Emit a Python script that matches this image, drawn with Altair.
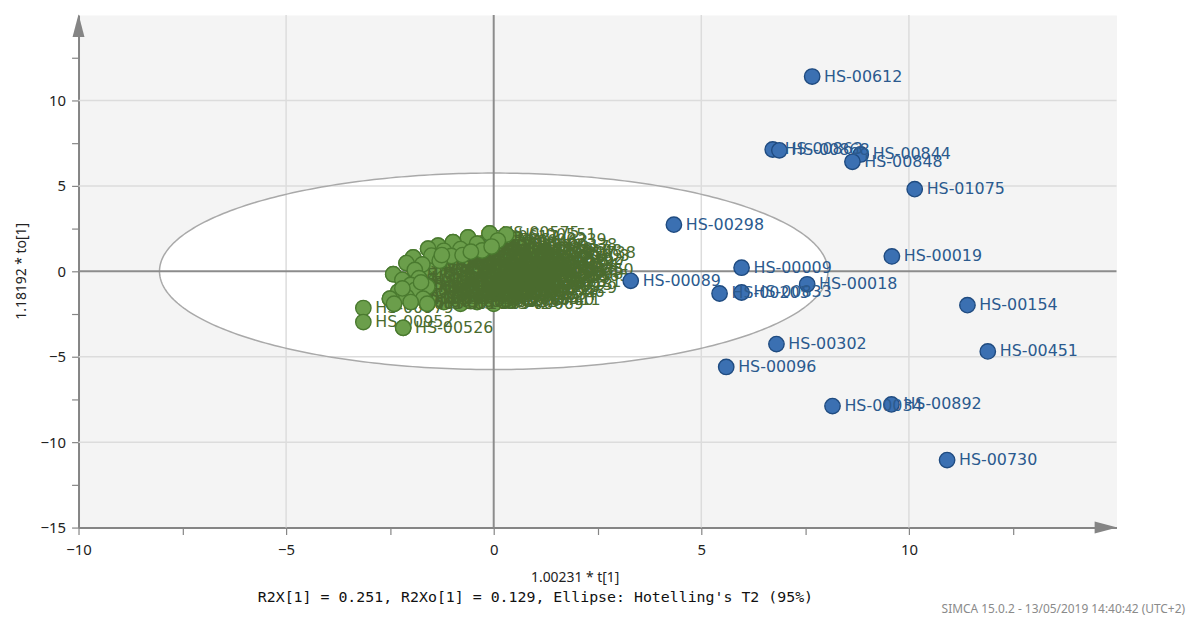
import altair as alt
import pandas as pd
import numpy as np

# ---------------- data ----------------
blue_id = ["HS-00612", "HS-00863", "HS-00868", "HS-00844", "HS-00848", "HS-01075",
           "HS-00298", "HS-00019", "HS-00009", "HS-00089", "HS-00018", "HS-00205",
           "HS-00833", "HS-00154", "HS-00302", "HS-00451", "HS-00096", "HS-00034",
           "HS-00892", "HS-00730"]
blue_x = [7.67, 6.72, 6.88, 8.84, 8.64, 10.14, 4.34, 9.59, 5.97, 3.30, 7.55, 5.44,
          5.97, 11.41, 6.81, 11.90, 5.60, 8.16, 9.58, 10.92]
blue_y = [11.40, 7.13, 7.08, 6.84, 6.41, 4.81, 2.73, 0.87, 0.21, -0.56, -0.76, -1.30,
          -1.24, -1.98, -4.26, -4.69, -5.60, -7.89, -7.79, -11.05]

green_id = ["HS-00979", "HS-00952", "HS-00526", "HS-00981",
            "HS-00575", "HS-00551", "HS-00239", "HS-00617", "HS-00702", "HS-00133",
            "HS-00462", "HS-00338", "HS-00284", "HS-00917",
            "HS-00045", "HS-00871", "HS-00366", "HS-00510", "HS-00729", "HS-00188",
            "HS-00403", "HS-00654", "HS-00207", "HS-00391", "HS-00823", "HS-00114",
            "HS-00595", "HS-00276", "HS-00738",
            "HS-00312", "HS-00067", "HS-00759", "HS-00441", "HS-00926", "HS-00158",
            "HS-00683", "HS-00219", "HS-00847", "HS-00350", "HS-00591", "HS-00026",
            "HS-00474", "HS-00805", "HS-00137", "HS-00662", "HS-00295", "HS-00418",
            "HS-00776", "HS-00053", "HS-00609", "HS-00247", "HS-00938", "HS-00381",
            "HS-00125", "HS-00714", "HS-00321", "HS-00565", "HS-00092", "HS-00433",
            "HS-00857", "HS-00176", "HS-00640", "HS-00258", "HS-00789", "HS-00013",
            "HS-00507", "HS-00964", "HS-00231", "HS-00688", "HS-00149", "HS-00372",
            "HS-00815", "HS-00046", "HS-00529", "HS-00903", "HS-00265", "HS-00741",
            "HS-00082", "HS-00456", "HS-00897", "HS-00193", "HS-00634",
            "HS-00318", "HS-00770", "HS-00105", "HS-00583", "HS-00942", "HS-00227",
            "HS-00669", "HS-00411",
            "HS-00536", "HS-00078", "HS-00853", "HS-00244", "HS-00697", "HS-00161",
            "HS-00502", "HS-00928", "HS-00386", "HS-00619", "HS-00071", "HS-00492",
            "HS-00837", "HS-00210", "HS-00755", "HS-00029",
            "HS-00301", "HS-00719", "HS-00548", "HS-00963", "HS-00117", "HS-00385",
            "HS-00606", "HS-00872", "HS-00233", "HS-00490", "HS-00145", "HS-00777",
            "HS-00325", "HS-00058", "HS-00694", "HS-00440", "HS-00811", "HS-00266",
            "HS-00579", "HS-00036", "HS-00927", "HS-00172", "HS-00613", "HS-00359",
            "HS-00804", "HS-00283", "HS-00751", "HS-00094", "HS-00468", "HS-00635"]
green_x = [-3.14, -3.14, -2.18, -2.42,
           -0.10, 0.30, 0.55, -0.62, -0.98, -1.34, 0.10, 0.80, -0.40, 0.62,
           -1.58, -1.20, -0.80, -0.28, 0.22, 0.92, 1.10, -1.94, -1.50, -1.02, -0.52,
           0.02, 0.42, 0.72, 1.25,
           -2.10, -1.72, -1.30, -0.90, -0.60, -0.20, 0.30, 0.60, 1.00, 1.20, -1.90,
           -1.50, -1.10, -0.70, -0.40, 0.10, 0.50, 0.82,
           -2.20, -1.80, -1.40, -1.00, -0.50, -0.10, 0.20, 0.60, 0.90, 1.10, -2.00,
           -1.60, -1.20, -0.80, -0.30, 0.00, 0.40, 0.70,
           -2.30, -1.90, -1.50, -1.10, -0.70, -0.30, 0.10, 0.50, 0.80, -2.50, -2.10,
           -1.70, -1.30, -0.90, -0.50, -0.10, 0.30,
           -2.40, -2.00, -1.60, -1.20, -0.80, -0.40, 0.00, 0.40,
           -1.00, -0.20, 0.30, -0.60, -1.30, -0.85, 0.15, 0.65, -0.45, -1.75, -2.20,
           0.95, -0.05, -0.75, -1.40, 0.40,
           -1.20, -0.90, -0.60, -0.20, 0.20, 0.55, 0.35, -0.35, -0.80, -1.15, -0.75,
           -0.35, 0.05, 0.55, 0.85, 0.25, -0.15, -0.55, -1.00, -1.30, 0.00, -0.50,
           0.45, -0.95, -1.25, 0.15, -0.55, 0.70, 0.95, -0.05]
green_y = [-2.15, -2.97, -3.31, -0.17,
           2.22, 2.15, 1.85, 1.98, 1.70, 1.50, 1.80, 1.55, 1.62, 1.40,
           1.32, 1.20, 1.30, 1.22, 1.30, 1.18, 0.88, 0.81, 0.92, 0.90, 0.80, 0.92,
           1.02, 0.78, 1.05,
           0.48, 0.40, 0.62, 0.50, 0.30, 0.58, 0.50, 0.28, 0.40, 0.10, 0.08, 0.00,
           0.20, -0.10, 0.10, 0.20, -0.10, 0.10,
           -0.50, -0.40, -0.60, -0.30, -0.50, -0.30, -0.60, -0.40, -0.60, -0.30,
           -0.80, -0.90, -0.80, -0.70, -0.80, -0.70, -0.90, -0.80,
           -1.20, -1.10, -1.30, -1.20, -1.10, -1.30, -1.10, -1.20, -1.00, -1.60,
           -1.50, -1.60, -1.50, -1.60, -1.50, -1.60, -1.40,
           -1.90, -1.80, -1.90, -1.80, -1.90, -1.80, -1.90, -1.70,
           -0.05, -0.10, 0.02, -0.30, -0.20, 0.15, -0.40, -0.15, -1.00, -0.65,
           -1.00, 0.65, 1.45, 0.95, 0.30, 0.75,
           -0.40, -0.90, -1.30, -1.00, -0.90, -0.65, -0.30, -0.55, -0.45, -1.00, 0.65,
           0.40, 0.45, 0.60, 0.35, -1.70, -1.35, -1.75, -1.40, -1.10, 0.00, 0.05,
           0.20, 0.35, 0.95, 1.05, 1.15, 1.10, -0.15, -0.50]

# ellipse (Hotelling's T2 95%) semi-axes
ell_a = 8.05
ell_b = 5.75

x_ticks = [-10, -7.5, -5, -2.5, 0, 2.5, 5, 7.5, 10, 12.5]
y_ticks = [-15, -12.5, -10, -7.5, -5, -2.5, 0, 2.5, 5, 7.5, 10, 12.5]
x_grid = [-5, 5, 10]
y_grid = [-10, -5, 5, 10]

x_title = "1.00231 * t[1]"
y_title = "1.18192 * to[1]"
subtitle = "R2X[1] = 0.251, R2Xo[1] = 0.129, Ellipse: Hotelling's T2 (95%)"
footnote = "SIMCA 15.0.2 - 13/05/2019 14:40:42 (UTC+2)"

# ---------------- frames ----------------
blue = pd.DataFrame({"x": blue_x, "y": blue_y, "id": blue_id})
green = pd.DataFrame({"x": green_x, "y": green_y, "id": green_id})

t = np.linspace(-ell_a, ell_a, 241)
half = ell_b * np.sqrt(np.clip(1 - (t / ell_a) ** 2, 0, 1))
ell_fill = pd.DataFrame({"x": t, "y": half, "y2": -half})
ang = np.linspace(0, 2 * np.pi, 361)
ell_line = pd.DataFrame({"x": ell_a * np.cos(ang), "y": ell_b * np.sin(ang), "i": np.arange(361)})

W, H = 1045, 516
FONT = "Noto Sans"
LFONT = "DejaVu Sans"

xs = alt.Scale(domain=[-10, 15], nice=False, zero=False)
ys = alt.Scale(domain=[-15, 15], nice=False, zero=False)
axis_common = dict(title=None, grid=False, domainColor="#858585", domainWidth=2,
                   tickColor="#858585", tickSize=7, tickWidth=1.2,
                   labelFont=FONT, labelFontSize=15, labelColor="#222222",
                   labelFlush=False, labelOverlap=False,
                   labelExpr="datum.value % 5 == 0 ? datum.label : ''")
X = alt.X("x:Q", scale=xs, axis=alt.Axis(values=x_ticks, labelPadding=8, **axis_common))
Y = alt.Y("y:Q", scale=ys, axis=alt.Axis(values=y_ticks, labelPadding=6, **axis_common))

fill_layer = alt.Chart(ell_fill).mark_area(color="white", opacity=1).encode(
    x=X, y=Y, y2="y2:Q")

gx = alt.Chart(pd.DataFrame({"x": x_grid})).mark_rule(color="#dcdcdc", strokeWidth=1.5).encode(x=X)
gy = alt.Chart(pd.DataFrame({"y": y_grid})).mark_rule(color="#dcdcdc", strokeWidth=1.5).encode(y=Y)

outline = alt.Chart(ell_line).mark_line(color="#a9a9a9", strokeWidth=1.5).encode(
    x=X, y=Y, order="i:Q")

z0x = alt.Chart(pd.DataFrame({"x": [0]})).mark_rule(color="#8c8c8c", strokeWidth=2).encode(x=X)
z0y = alt.Chart(pd.DataFrame({"y": [0]})).mark_rule(color="#8c8c8c", strokeWidth=2).encode(y=Y)

g_pts = alt.Chart(green).mark_point(filled=True, shape="circle", size=240, fill="#6b9e4b",
                                    stroke="#4a7a2f", strokeWidth=1.4, opacity=1).encode(x=X, y=Y)
g_txt = alt.Chart(green).mark_text(align="left", baseline="middle", dx=12, font=LFONT,
                                   fontSize=16, color="#4a6b2e").encode(x=X, y=Y, text="id:N")
g_front = alt.Chart(green).transform_filter(
    "(datum.x > -3 && datum.x < -1.5) || (datum.y > 0.6 * datum.x + 1.3 && datum.x < 0.35)"
).mark_point(filled=True, shape="circle", size=240, fill="#6b9e4b",
             stroke="#4a7a2f", strokeWidth=1.4, opacity=1).encode(x=X, y=Y)

b_pts = alt.Chart(blue).mark_point(filled=True, shape="circle", size=240, fill="#3b70b2",
                                   stroke="#1f4b80", strokeWidth=1.4, opacity=1).encode(x=X, y=Y)
b_txt = alt.Chart(blue).mark_text(align="left", baseline="middle", dx=12, font=LFONT,
                                  fontSize=16, color="#2b5a8e").encode(x=X, y=Y, text="id:N")

arrow_up = alt.Chart(pd.DataFrame({"k": [0]})).mark_point(
    shape="M0,-1.9L0.5,0L-0.5,0Z", size=576, filled=True, fill="#858585", strokeWidth=0, opacity=1
).encode(x=alt.value(0), y=alt.value(22))
arrow_right = alt.Chart(pd.DataFrame({"k": [0]})).mark_point(
    shape="M1.9,0L0,-0.5L0,0.5Z", size=576, filled=True, fill="#858585", strokeWidth=0, opacity=1
).encode(x=alt.value(W - 22), y=alt.value(H))

xt = alt.Chart(pd.DataFrame({"t": [x_title]})).mark_text(
    font=FONT, fontSize=14, color="#222222", align="center", baseline="middle"
).encode(x=alt.value(500), y=alt.value(567), text="t:N")
yt = alt.Chart(pd.DataFrame({"t": [y_title]})).mark_text(
    font=FONT, fontSize=14, color="#222222", align="center", baseline="middle", angle=270
).encode(x=alt.value(-57), y=alt.value(258), text="t:N")
st = alt.Chart(pd.DataFrame({"t": [subtitle]})).mark_text(
    font="DejaVu Sans Mono", fontSize=15, color="#111111", align="center", baseline="middle"
).encode(x=alt.value(460), y=alt.value(586), text="t:N")
ft = alt.Chart(pd.DataFrame({"t": [footnote]})).mark_text(
    font=FONT, fontSize=12, color="#8a8a8a", align="right", baseline="middle"
).encode(x=alt.value(1114), y=alt.value(598), text="t:N")

chart = alt.layer(
    fill_layer, gx, gy, outline, z0x, z0y,
    g_pts, g_txt, g_front, b_pts, b_txt,
    arrow_up, arrow_right, xt, yt, st, ft
).properties(
    width=W, height=H,
    autosize=alt.AutoSizeParams(type="none"),
    padding={"left": 71, "top": 5, "right": 73, "bottom": 95},
).configure_view(fill="#f4f4f4", stroke="transparent")

chart.save("out.html", embed_options={"renderer": "svg", "actions": False})
